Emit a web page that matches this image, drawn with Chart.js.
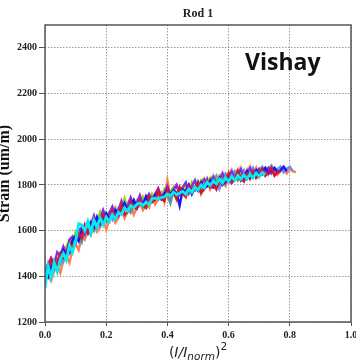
<!DOCTYPE html>
<html>
<head>
<meta charset="utf-8">
<script src="https://cdn.jsdelivr.net/npm/chart.js@4.4.1/dist/chart.umd.min.js"></script>
<style>
  html, body { margin: 0; padding: 0; background: #ffffff; }
  #wrap { width: 356px; height: 364px; }
</style>
</head>
<body>
<div id="wrap"><canvas id="c" width="356" height="364"></canvas></div>
<script>
// Normalised current squared, sampled every 0.01
const xs = [0.00,0.01,0.02,0.03,0.04,0.05,0.06,0.07,0.08,0.09,
            0.10,0.11,0.12,0.13,0.14,0.15,0.16,0.17,0.18,0.19,
            0.20,0.21,0.22,0.23,0.24,0.25,0.26,0.27,0.28,0.29,
            0.30,0.31,0.32,0.33,0.34,0.35,0.36,0.37,0.38,0.39,
            0.40,0.41,0.42,0.43,0.44,0.45,0.46,0.47,0.48,0.49,
            0.50,0.51,0.52,0.53,0.54,0.55,0.56,0.57,0.58,0.59,
            0.60,0.61,0.62,0.63,0.64,0.65,0.66,0.67,0.68,0.69,
            0.70,0.71,0.72,0.73,0.74,0.75,0.76,0.77,0.78,0.79,
            0.80,0.81,0.82];

// Strain readings (um/m) per gauge run
const strainCyan = [1350,1445,1395,1460,1420,1475,1500,1470,1535,1505,
  1555,1630,1625,1600,1640,1590,1645,1615,1655,1625,
  1660,1640,1670,1650,1680,1670,1700,1685,1710,1700,
  1715,1720,1710,1725,1715,1740,1742,1738,1745,1748,
  1760,1752,1768,1758,1765,1772,1760,1782,1768,1790,
  1778,1800,1788,1812,1798,1818,1805,1825,1808,1832,
  1815,1838,1820,1842,1825,1843,1827,1847,1830,1853,
  1837,1855,1845];
const strainRed = [1390,1420,1475,1445,1460,1500,1480,1490,1545,1520,
  1555,1590,1570,1625,1590,1605,1650,1615,1640,1670,
  1650,1640,1690,1655,1665,1710,1670,1685,1725,1700,
  1695,1730,1710,1700,1750,1725,1735,1775,1740,1730,
  1780,1750,1765,1740,1790,1765,1750,1795,1770,1785,
  1810,1765,1780,1820,1790,1800,1780,1825,1805,1820,
  1850,1810,1825,1860,1830,1815,1850,1835,1860,1830,
  1845,1870,1840,1855,1875,1840,1855,1860];
const strainBlue = [1405,1395,1440,1465,1450,1480,1515,1495,1505,1560,
  1575,1555,1600,1620,1590,1635,1615,1660,1630,1640,
  1675,1650,1665,1690,1670,1695,1720,1685,1710,1735,
  1700,1720,1710,1750,1725,1725,1755,1770,1740,1760,
  1780,1755,1775,1765,1710,1780,1770,1800,1760,1790,
  1775,1810,1785,1795,1820,1790,1805,1830,1800,1815,
  1840,1810,1825,1855,1820,1835,1860,1830,1845,1865,
  1840,1860,1875,1850,1865,1875,1855,1865,1880,1860];
const strainPurple = [1420,1455,1480,1450,1505,1490,1530,1500,1560,1575,
  1545,1600,1615,1585,1640,1620,1665,1625,1650,1690,
  1655,1675,1705,1670,1690,1730,1690,1710,1745,1705,
  1720,1755,1715,1735,1760,1735,1760,1785,1745,1765,
  1795,1755,1780,1800,1760,1790,1810,1770,1795,1820,
  1780,1805,1825,1795,1815,1835,1800,1825,1850,1810,
  1835,1860,1825,1845,1870,1830,1850,1875,1840,1860,
  1870,1845,1860,1875,1850,1865];
const strainCoral = [1385,1400,1380,1425,1450,1415,1470,1490,1460,1520,
  1540,1515,1575,1560,1600,1580,1630,1595,1615,1650,
  1605,1645,1670,1635,1655,1700,1655,1680,1710,1670,
  1700,1725,1690,1710,1700,1750,1715,1740,1765,1725,
  1820,1745,1770,1735,1785,1760,1745,1790,1765,1780,
  1805,1760,1795,1820,1780,1805,1830,1785,1815,1795,
  1850,1810,1830,1865,1820,1840,1865,1825,1850,1875,
  1835,1860,1875,1845,1865,1870,1845,1860,1875,1850,
  1870,1860,1855];
const strainPeach = [1455,1420,1445,1475,1450,1495,1470,1525,1545,1515,
  1585,1560,1605,1625,1595,1645,1620,1655,1670,1640,
  1680,1660,1690,1705,1670,1710,1695,1725,1740,1700,
  1735,1720,1750,1715,1755,1750,1735,1780,1760,1745,
  1790,1770,1760,1800,1775,1785,1810,1780,1795,1820,
  1790,1815,1830,1800,1825,1845,1815,1835,1855,1820,
  1850,1870,1835,1860,1880,1840,1865,1885,1855,1870,
  1875,1850,1865,1870];
const strainGreen = [1410,1430,1445,1470,1455,1500,1490,1530,1560,1540,
  1595,1575,1610,1590,1630,1605,1650,1640,1680,1635,
  1665,1650,1685,1660,1700,1685,1740,1695,1715,1705,
  1730,1710,1745,1720,1710,1760,1740,1765,1745,1780,
  1755,1770,1790,1760,1780,1765,1795,1770,1810,1780,
  1790,1820,1795,1810,1830,1800,1820,1840,1810,1835,
  1825,1850,1830,1840,1860,1830,1850,1865,1840,1860,
  1870,1855];
const strainSteel = [1400,1420,1445,1430,1475,1455,1500,1485,1530,1520,
  1565,1580,1550,1605,1590,1625,1600,1645,1620,1660,
  1640,1655,1675,1650,1690,1675,1690,1710,1680,1715,
  1700,1730,1710,1700,1740,1730,1760,1735,1745,1770,
  1755,1720,1775,1750,1780,1765,1790,1760,1785,1775,
  1800,1780,1795,1815,1790,1810,1825,1800,1820,1835,
  1810,1830,1845,1820,1840,1850,1825,1845,1860,1835,
  1855,1870,1845,1865,1875,1850];
const strainCornflower = [1395,1425,1400,1455,1435,1485,1465,1520,1500,1550,
  1580,1555,1605,1580,1625,1600,1645,1615,1665,1635,
  1655,1680,1650,1695,1665,1695,1715,1685,1725,1700,
  1715,1740,1705,1730,1755,1730,1755,1780,1740,1770,
  1785,1750,1775,1795,1760,1790,1810,1770,1800,1780,
  1815,1790,1805,1830,1795,1820,1840,1785,1830,1850,
  1815,1840,1860,1825,1850,1865,1830,1855,1875,1840,
  1865,1880,1850,1870,1885,1855,1870,1880,1855,1870,
  1880,1860];

const xTicks = [0.0, 0.2, 0.4, 0.6, 0.8, 1.0];
const yTicks = [1200, 1400, 1600, 1800, 2000, 2200, 2400];

const SERIF = "'Liberation Serif', 'Times New Roman', serif";

function series(ys, color, width) {
  return {
    data: ys.map((y, i) => ({ x: xs[i], y: y })),
    borderColor: color,
    borderWidth: width,
    pointRadius: 0,
    tension: 0,
    fill: false
  };
}

// First dataset is painted last, so the cyan run sits on top
const datasets = [
  series(strainCyan, '#00eef0', 2.8),
  series(strainRed, '#d8132f', 2.4),
  series(strainBlue, '#1515f5', 2.4),
  series(strainPurple, '#8a2be2', 2.4),
  series(strainGreen, '#7fe000', 2.4),
  series(strainSteel, '#5f8f9f', 2.4),
  series(strainCornflower, '#6495ed', 2.4),
  series(strainCoral, '#ff7f50', 2.4),
  series(strainPeach, '#f6c9a4', 2.4)
];

const decorations = {
  id: 'decorations',
  afterDraw(chart) {
    const { ctx, chartArea: a } = chart;
    ctx.save();
    // frame around the plot
    ctx.strokeStyle = '#555555';
    ctx.lineWidth = 1.5;
    ctx.strokeRect(a.left, a.top, a.right - a.left, a.bottom - a.top);

    // brand label
    ctx.fillStyle = '#111111';
    ctx.font = "700 23px 'Open Sans', sans-serif";
    ctx.textBaseline = 'alphabetic';
    ctx.textAlign = 'left';
    ctx.fillText('Vishay', 245, 70);

    // y axis title
    ctx.save();
    ctx.translate(5, (a.top + a.bottom) / 2);
    ctx.rotate(-Math.PI / 2);
    ctx.font = `bold 16px ${SERIF}`;
    ctx.textAlign = 'center';
    ctx.textBaseline = 'middle';
    ctx.fillText('Strain (um/m)', 0, 0);
    ctx.restore();

    // x axis title: (I/I_norm)^2
    const base = 14, small = 10.5, y0 = 357;
    const parts = [
      { t: '(', f: `${base}px 'DejaVu Sans', sans-serif`, dy: 0 },
      { t: 'I/I', f: `italic ${base}px 'DejaVu Sans', sans-serif`, dy: 0 },
      { t: 'norm', f: `italic ${small}px 'DejaVu Sans', sans-serif`, dy: 3 },
      { t: ')', f: `${base}px 'DejaVu Sans', sans-serif`, dy: 0 },
      { t: '2', f: `${small}px 'DejaVu Sans', sans-serif`, dy: -7 }
    ];
    let total = 0;
    parts.forEach(p => { ctx.font = p.f; p.w = ctx.measureText(p.t).width; total += p.w; });
    let x = (a.left + a.right) / 2 - total / 2;
    ctx.fillStyle = '#222222';
    ctx.textAlign = 'left';
    ctx.textBaseline = 'alphabetic';
    parts.forEach(p => { ctx.font = p.f; ctx.fillText(p.t, x, y0 + p.dy); x += p.w; });
    ctx.restore();
  }
};

new Chart(document.getElementById('c'), {
  type: 'line',
  data: { datasets },
  plugins: [decorations],
  options: {
    responsive: false,
    animation: false,
    layout: { padding: { left: 0, right: 5, top: 0, bottom: 0 } },
    plugins: {
      legend: { display: false },
      tooltip: { enabled: false },
      title: {
        display: true,
        text: 'Rod 1',
        fullSize: false,
        color: '#222222',
        font: { family: SERIF, size: 12, weight: 'bold' },
        padding: { top: 7, bottom: 3.6 }
      }
    },
    scales: {
      x: {
        type: 'linear',
        min: 0,
        max: 1,
        afterBuildTicks(scale) { scale.ticks = xTicks.map(v => ({ value: v })); },
        afterFit(scale) { scale.height = 42; scale.paddingRight = 0; scale.paddingLeft = 0; },
        ticks: {
          color: '#222222',
          font: { family: SERIF, size: 10, weight: 'bold' },
          padding: 3,
          maxRotation: 0,
          callback: v => Number(v).toFixed(1)
        },
        grid: { color: '#9a9a9a', tickColor: '#555555', tickLength: 4, tickBorderDash: [] },
        border: { display: false, dash: [1.5, 1.5] }
      },
      y: {
        type: 'linear',
        min: 1200,
        max: 2500,
        afterBuildTicks(scale) { scale.ticks = yTicks.map(v => ({ value: v })); },
        afterFit(scale) { scale.width = 45; },
        ticks: {
          color: '#222222',
          font: { family: SERIF, size: 10, weight: 'bold' },
          padding: 2,
          callback: v => String(v)
        },
        grid: { color: '#9a9a9a', tickColor: '#555555', tickLength: 6, tickBorderDash: [] },
        border: { display: false, dash: [1.5, 1.5] }
      }
    }
  }
});
</script>
</body>
</html>
